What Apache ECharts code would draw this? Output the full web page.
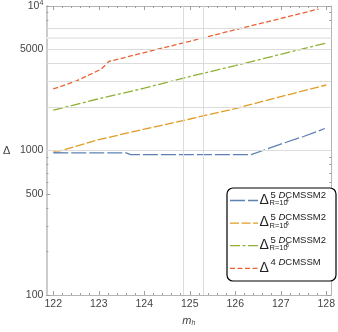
<!DOCTYPE html>
<html>
<head>
<meta charset="utf-8">
<script src="https://cdn.jsdelivr.net/npm/echarts@6/dist/echarts.min.js"></script>
<style>
  html, body { margin: 0; padding: 0; background: #fff; }
  #chart { width: 338px; height: 332px; }
</style>
</head>
<body>
<div id="chart"></div>
<script>
// m_h values and Delta
const mhBlue = [122, 123.6, 123.7, 126.35, 127, 127.5, 127.97];
const deltaBlue = [965, 962, 935, 935, 1107, 1250, 1420];

const mhOrange = [122, 122.15, 123, 124, 125, 126, 127, 128];
const deltaOrange = [990, 995, 1189, 1405, 1652, 1950, 2360, 2840];

const mhGreen = [122, 123, 124, 125, 126, 127, 128];
const deltaGreen = [1900, 2280, 2700, 3250, 3870, 4630, 5540];

const mhRed = [122, 122.5, 123.05, 123.15, 123.22, 124, 125, 126, 127, 127.83];
const deltaRed = [2665, 3020, 3650, 3910, 4130, 4760, 5700, 6850, 8200, 9530];

// ticks
const xMajor = [122, 123, 124, 125, 126, 127, 128];
const yMajor = [100, 500, 1000, 5000, 10000];
const yMinor = [200, 300, 400, 600, 700, 800, 900, 2000, 3000, 4000, 6000, 7000, 8000, 9000];
const xMinor = [];
for (let i = 0; i < 6; i++) {
  for (let k = 1; k < 5; k++) xMinor.push(+(122 + i + k * 0.2).toFixed(1));
}

// grid lines
const hGrid = [1000, 2000, 3000, 4000, 5000, 7000];
const hGridWide = [6000];
const vGrid = [124.85, 125.3];

// legend text
const legSup = ['5 {i|D}CMSSM2', '5 {i|D}CMSSM2', '5 {i|D}CMSSM2', '4 {i|D}CMSSM'];
const legSub = ['R=10', 'R=10', 'R=10', ''];
const legExp = ['-4', '-6', '-8', ''];

const colors = ['#5e81b5', '#e19c24', '#8fb032', '#eb6235'];
const dashes = [[15, 3], [9, 2.5], [10, 2.5, 3, 2.5], [5, 2.5]];

const chart = echarts.init(document.getElementById('chart'));

const font = '"Liberation Sans", Arial, sans-serif';
const xMin = 121.848, xMax = 128.109;

function zip(a, b) {
  return a.map((v, i) => [v, b[i]]);
}

function xAx(pos, values, len, line, labels) {
  return {
    type: 'value', position: pos, min: xMin, max: xMax,
    axisLine: { show: line, onZero: false, lineStyle: { color: '#b4b4b4', width: 1 } },
    axisTick: { show: true, inside: true, length: len, customValues: values, lineStyle: { color: '#a0a0a0' } },
    axisLabel: labels ? { customValues: values, margin: 4, fontSize: 10.5, fontFamily: font, color: '#444' } : { show: false },
    splitLine: { show: false }
  };
}

function yAx(pos, values, len, line, labels) {
  return {
    type: 'log', logBase: 10, position: pos, min: 100, max: 10000,
    axisLine: { show: line, onZero: false, lineStyle: { color: pos === 'left' ? '#cccccc' : '#b4b4b4', width: pos === 'left' ? 2 : 1 } },
    axisTick: { show: true, inside: true, length: len, customValues: values, lineStyle: { color: '#a0a0a0' } },
    axisLabel: labels ? {
      customValues: values, margin: 3, fontSize: 10.5, fontFamily: font, color: '#444',
      formatter: v => (v === 10000 ? '10{s|4}' : String(v)),
      rich: { s: { fontSize: 7, fontFamily: font, color: '#444', verticalAlign: 'top', padding: [0, 0, 5, 0] } }
    } : { show: false },
    splitLine: { show: false }
  };
}

const xAxes = [xAx('bottom', xMajor, 4, true, true), xAx('bottom', xMinor, 2, false, false),
               xAx('top', xMajor, 4, true, false), xAx('top', xMinor, 2, false, false)];
xAxes[0].name = 'm{h|h}';
xAxes[0].nameLocation = 'middle';
xAxes[0].nameGap = 19;
xAxes[0].nameTextStyle = {
  fontSize: 11, fontFamily: font, fontStyle: 'italic', color: '#444',
  rich: { h: { fontSize: 7, fontFamily: font, fontStyle: 'italic', color: '#444', verticalAlign: 'bottom', padding: [6, 0, 0, 0] } }
};

const yAxes = [yAx('left', yMajor, 4, true, true), yAx('left', yMinor, 2, false, false),
               yAx('right', yMajor, 4, true, false), yAx('right', yMinor, 2, false, false)];
yAxes[0].name = 'Δ';
yAxes[0].nameLocation = 'middle';
yAxes[0].nameRotate = 0;
yAxes[0].nameGap = 36;
yAxes[0].nameTextStyle = { fontSize: 11, fontFamily: font, color: '#444' };

const gridMarks = []
  .concat(hGrid.map(v => ({ yAxis: v, lineStyle: { color: '#dcdcdc', width: 1, type: 'solid' } })))
  .concat(hGridWide.map(v => ({ yAxis: v, lineStyle: { color: '#ececec', width: 2, type: 'solid' } })))
  .concat(vGrid.map(v => ({ xAxis: v, lineStyle: { color: '#dcdcdc', width: 1, type: 'solid' } })));

const lineData = [zip(mhBlue, deltaBlue), zip(mhOrange, deltaOrange), zip(mhGreen, deltaGreen), zip(mhRed, deltaRed)];

const series = [{
  type: 'line', data: [], z: 1, silent: true,
  markLine: { silent: true, symbol: 'none', label: { show: false }, animation: false, data: gridMarks }
}].concat(lineData.map((d, i) => ({
  type: 'line', data: d, xAxisIndex: 0, yAxisIndex: 0, z: 3,
  symbol: 'none', showSymbol: false, silent: true,
  lineStyle: { color: colors[i], width: 1.3, type: dashes[i] }
})));

// legend box drawn by hand (super/subscripts)
const box = { left: 227, top: 188, width: 109, height: 93 };
const legend = [{
  type: 'rect', shape: { x: box.left, y: box.top, width: box.width, height: box.height, r: 6 },
  style: { fill: '#fff', stroke: '#000', lineWidth: 1.2 }, z: 10
}];
for (let i = 0; i < 4; i++) {
  const yc = 199.5 + 22.6 * i;
  legend.push({
    type: 'line', shape: { x1: 230, y1: yc + 1, x2: 258, y2: yc + 1 },
    style: { stroke: colors[i], lineWidth: 1.3, lineDash: dashes[i] }, z: 11
  });
  legend.push({
    type: 'text', x: 259.5, y: yc + 0.5, z: 11,
    style: { text: 'Δ', font: '14px ' + font, fill: '#222', verticalAlign: 'middle' }
  });
  legend.push({
    type: 'text', x: 270.5, y: yc - 4.5, z: 11,
    style: {
      text: legSup[i], fontSize: 9.5, fontFamily: font, fill: '#222', verticalAlign: 'middle',
      rich: { i: { fontSize: 9.5, fontFamily: font, fontStyle: 'italic', fill: '#222' } }
    }
  });
  if (legSub[i]) {
    legend.push({
      type: 'text', x: 269.5, y: yc + 3.5, z: 11,
      style: { text: legSub[i], font: '7.5px ' + font, fill: '#222', verticalAlign: 'middle' }
    });
    legend.push({
      type: 'text', x: 284, y: yc + 1, z: 11,
      style: { text: legExp[i], font: '5.5px ' + font, fill: '#222', verticalAlign: 'middle' }
    });
  }
}

chart.setOption({
  animation: false,
  backgroundColor: '#fff',
  grid: { left: 45, right: 5, top: 6, bottom: 36, containLabel: false },
  xAxis: xAxes,
  yAxis: yAxes,
  series: series,
  graphic: legend
});
</script>
</body>
</html>
